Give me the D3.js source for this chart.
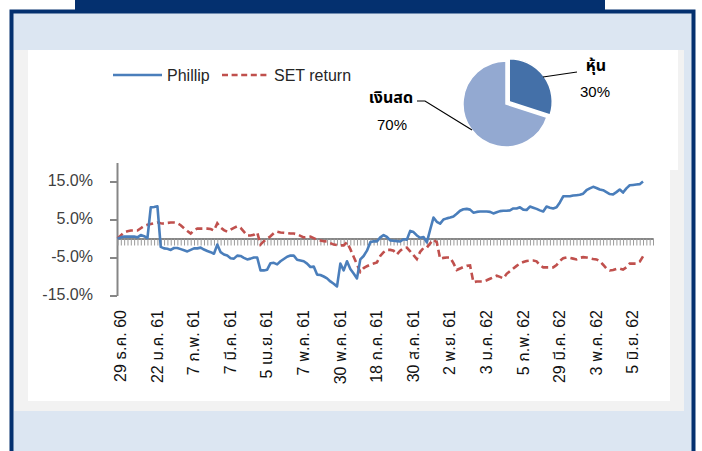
<!DOCTYPE html>
<html><head><meta charset="utf-8">
<script src="https://cdn.jsdelivr.net/npm/d3@7"></script>
<style>
body{margin:0;background:#fff;}
svg{display:block;font-family:"Liberation Sans",Arial,"Noto Sans Thai","Tahoma",sans-serif;}
</style>
</head><body>
<svg id="c" width="702" height="451"></svg>
<script>
// ---- data ----
const tickLabels = ["29 ธ.ค. 60","22 ม.ค. 61","7 ก.พ. 61","7 มี.ค. 61","5 เม.ย. 61","7 พ.ค. 61","30 พ.ค. 61","18 ก.ค. 61","30 ส.ค. 61","2 พ.ย. 61","3 ม.ค. 62","5 ก.พ. 62","29 มี.ค. 62","3 พ.ค. 62","5 มิ.ย. 62"];
const labelStep = 11;
const categoryCount = 162;
const seriesNames = ["Phillip","SET return"];
const phillip = [0,0.3,0.5,0.5,0.5,0.5,0.3,0.9,0.6,0.1,
8.2,8.3,8.5,-2.2,-2.6,-2.7,-3.0,-2.5,-2.5,-2.8,
-3.1,-3.4,-3.0,-2.6,-2.6,-2.4,-2.9,-3.3,-3.6,-4.0,
-1.6,-3.6,-4.2,-4.5,-5.2,-5.3,-4.5,-4.6,-5.1,-5.5,
-5.3,-5.0,-5.0,-8.4,-8.4,-8.2,-6.5,-6.4,-6.8,-6.0,
-5.4,-4.8,-4.5,-4.5,-5.6,-5.8,-6.0,-6.6,-7.5,-7.4,
-9.5,-9.6,-10.0,-10.5,-11.3,-11.9,-12.6,-6.6,-8.4,-6.0,
-8.0,-9.2,-10.5,-5.5,-4.6,-3.2,-1.0,-0.7,-0.8,0.3,
0.9,0.4,-0.5,-0.6,-0.7,-0.8,-0.2,-0.3,2.0,1.7,
0.8,0.2,0.4,-1.0,2.3,5.5,4.4,3.9,5.0,5.3,
5.5,5.8,6.5,7.3,7.7,7.8,7.6,6.8,7.0,7.1,
7.1,7.1,7.0,6.6,6.9,7.2,7.3,7.3,7.4,7.9,
7.9,8.2,7.6,7.5,8.4,8.1,7.8,7.4,7.1,8.4,
8.1,7.9,8.2,9.5,11.1,11.1,11.1,11.3,11.4,11.5,
11.8,12.7,13.2,13.6,13.3,12.9,12.7,12.2,11.7,11.6,
12.2,12.9,12.1,13.2,14.0,14.1,14.2,14.3,15.0];
const setReturn = [0,0.8,1.6,1.9,2.1,2.1,2.1,2.7,3.3,3.6,
3.8,4.0,4.2,4.0,3.9,4.1,4.2,4.2,4.0,3.5,
2.7,2.0,1.3,2.2,2.6,2.6,2.6,2.6,2.5,2.1,
4.0,2.9,2.2,1.8,2.3,2.8,3.2,2.8,1.8,0.8,
0.8,1.0,1.6,-1.6,-0.7,-0.1,0.6,1.4,1.8,1.6,
1.5,1.4,1.3,1.3,1.1,0.7,0.3,0.4,0.5,0.1,
-0.3,-0.5,-0.7,-0.8,-1.2,-1.6,-1.7,-1.8,-1.8,-1.0,
-2.8,-4.8,-6.8,-8.8,-7.8,-7.3,-6.9,-6.6,-6.3,-4.6,
-3.6,-3.0,-3.0,-3.2,-4.2,-3.2,-2.5,-2.4,-3.4,-4.4,
-5.4,-3.5,-2.5,-2.4,-1.3,-0.3,-1.0,-5.3,-5.1,-5.0,
-5.0,-6.5,-8.3,-7.9,-7.5,-7.2,-7.1,-11.5,-11.3,-11.3,
-11.3,-11.0,-10.6,-10.2,-9.8,-10.1,-10.5,-9.3,-8.6,-7.9,
-7.2,-6.6,-6.2,-5.9,-5.8,-5.8,-6.0,-7.0,-7.6,-7.6,
-7.6,-7.6,-7.0,-5.9,-5.2,-5.0,-5.1,-5.3,-5.5,-5.1,
-4.9,-5.0,-5.2,-5.4,-5.5,-6.0,-6.9,-7.9,-8.4,-8.3,
-8.0,-7.9,-8.2,-7.6,-6.6,-6.6,-6.6,-6.1,-4.7];
const yTicks = [-15,-5,5,15];
const yDomain = [-15,20];
const pieLabels = ["หุ้น","เงินสด"];
const pieValues = [30,70];

// ---- drawing ----
const svg = d3.select("#c");
const navy = "#04306f";

// frame
svg.append("rect").attr("x",0).attr("y",0).attr("width",702).attr("height",451).attr("fill","#fff");
svg.append("rect").attr("x",75).attr("y",0).attr("width",530).attr("height",12).attr("fill",navy);
svg.append("rect").attr("x",11.5).attr("y",11.5).attr("width",682).attr("height",460)
  .attr("fill","#dce6f2").attr("stroke",navy).attr("stroke-width",4);
svg.append("rect").attr("x",14).attr("y",50).attr("width",670).attr("height",361).attr("fill","#f2f2f2");
svg.append("rect").attr("x",28).attr("y",50).attr("width",642).attr("height",351).attr("fill","#fff");
svg.append("rect").attr("x",669).attr("y",50).attr("width",9).attr("height",120).attr("fill","#fff");

const categories = d3.range(categoryCount);
const x = d3.scalePoint().domain(categories).range([117.5, 653]);
const y = d3.scaleLinear().domain(yDomain).range([295.5, 162.5]);

// y axis
const yAxis = svg.append("g").attr("transform","translate(117,0)")
  .call(d3.axisLeft(y).tickValues(yTicks).tickFormat(d => d.toFixed(1) + "%").tickSize(7).tickSizeOuter(0).tickPadding(17));
yAxis.select(".domain").attr("stroke","#868686").attr("stroke-width",2);
yAxis.selectAll(".tick line").attr("stroke","#868686").attr("stroke-width",2);
yAxis.selectAll(".tick text").attr("font-size",16).attr("fill","#404040").attr("dy","0.28em")
  .attr("font-family","'Liberation Sans',Arial,sans-serif");

// x axis at zero
const xAxis = svg.append("g").attr("transform",`translate(0,${y(0)})`)
  .call(d3.axisBottom(x).tickSize(7).tickSizeOuter(0).tickFormat(""));
xAxis.select(".domain").attr("stroke","#868686").attr("stroke-width",2.2);
xAxis.selectAll(".tick line").attr("stroke","#9a9a9a").attr("stroke-width",1);

// x labels
tickLabels.forEach((lab, k) => {
  const i = k * labelStep;
  svg.append("text")
    .attr("transform", `translate(${x(i) + 3},310) rotate(-90)`)
    .attr("dy","0.35em").attr("text-anchor","end")
    .attr("font-size",16).attr("fill","#111")
    .text(lab);
});

// lines
const line = d3.line().defined(d => d != null).x((d,i) => x(i)).y(d => y(d));
svg.append("path").datum(setReturn).attr("d",line).attr("fill","none")
  .attr("stroke","#c0504d").attr("stroke-width",2.6).attr("stroke-dasharray","7,4");
svg.append("path").datum(phillip).attr("d",line).attr("fill","none")
  .attr("stroke","#4a7ebb").attr("stroke-width",2.6).attr("stroke-linejoin","round");

// legend
const lg = svg.append("g");
lg.append("line").attr("x1",113).attr("x2",162).attr("y1",75).attr("y2",75)
  .attr("stroke","#4a7ebb").attr("stroke-width",2.6);
lg.append("text").attr("x",167).attr("y",81).attr("font-size",16).attr("fill","#262626").text(seriesNames[0]);
lg.append("line").attr("x1",222).attr("x2",270).attr("y1",75).attr("y2",75)
  .attr("stroke","#c0504d").attr("stroke-width",2.6).attr("stroke-dasharray","6,3.6");
lg.append("text").attr("x",274).attr("y",81).attr("font-size",16).attr("fill","#262626").text(seriesNames[1]);

// pie
const pc = [506, 104], r = 43;
const arcs = d3.pie().sort(null)(pieValues);
const arc = d3.arc().innerRadius(0).outerRadius(r);
const pieColors = ["#4470a8","#93a9d1"];
const pg = svg.append("g").attr("transform",`translate(${pc[0]},${pc[1]})`);
arcs.forEach((a, i) => {
  const mid = (a.startAngle + a.endAngle) / 2;
  const off = i === 0 ? 4 : 0;
  pg.append("path").attr("d", arc(a))
    .attr("transform", `translate(${off*Math.sin(mid)},${-off*Math.cos(mid)})`)
    .attr("fill", pieColors[i]).attr("stroke","#fff").attr("stroke-width",1.5);
});
// leader lines & labels
svg.append("polyline").attr("points","543,77 577,72").attr("fill","none").attr("stroke","#000").attr("stroke-width",1.2);
svg.append("polyline").attr("points","417,101 425,101 472,130").attr("fill","none").attr("stroke","#000").attr("stroke-width",1.2);
svg.append("text").attr("x",596).attr("y",71).attr("text-anchor","middle").attr("font-size",16).attr("font-weight","bold").attr("fill","#000").text(pieLabels[0]);
svg.append("text").attr("x",595).attr("y",97).attr("text-anchor","middle").attr("font-size",15).attr("fill","#000").text(pieValues[0] + "%");
svg.append("text").attr("x",391).attr("y",103).attr("text-anchor","middle").attr("font-size",16).attr("font-weight","bold").attr("fill","#000").text(pieLabels[1]);
svg.append("text").attr("x",392).attr("y",130).attr("text-anchor","middle").attr("font-size",15).attr("fill","#000").text(pieValues[1] + "%");
</script>
</body></html>
